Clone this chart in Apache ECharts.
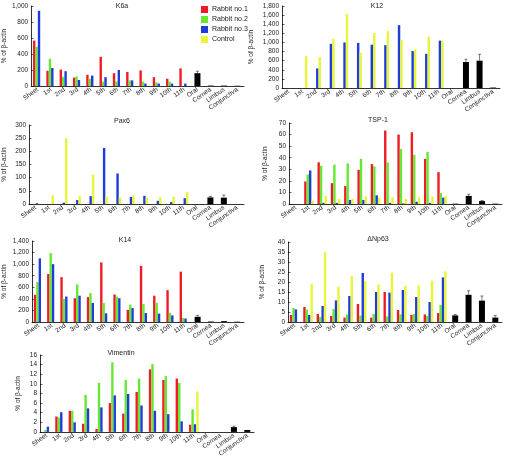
<!DOCTYPE html>
<html><head><meta charset="utf-8">
<script src="https://cdn.jsdelivr.net/npm/echarts@6/dist/echarts.min.js"></script>
<style>html,body{margin:0;padding:0;background:#fff}#c{width:507px;height:459px}</style>
</head><body><div id="c"></div>
<script>
const categories = ['Sheet','1st','2nd','3rd','4th','5th','6th','7th','8th','9th','10th','11th','Oral','Cornea','Limbus','Conjunctiva'];
const seriesNames = ['Rabbit no.1','Rabbit no.2','Rabbit no.3','Control'];
const tissueName = 'Tissue';

// K6a
const k6aRed    = [568,190,205,105,140,365,160,175,195,110,90,220];
const k6aGreen  = [490,340,115,120,90,55,55,70,55,45,55,0];
const k6aBlue   = [940,225,185,75,130,110,200,70,30,30,30,30];
const k6aYellow = [0,0,0,0,0,0,0,0,0,0,0,0];
const k6aTissue = [160,5,5,3];
const k6aErr    = [25,0,0,0];
const k6aTicks  = [0,200,400,600,800,1000];

// K12
const k12Red    = [0,0,0,0,0,0,0,0,0,0,0,0];
const k12Green  = [0,0,0,0,0,0,0,0,0,0,0,0];
const k12Blue   = [0,0,430,970,1000,990,950,940,1380,810,750,1040];
const k12Yellow = [0,700,680,1080,1620,780,1210,1250,1060,850,1130,1030];
const k12Tissue = [0,570,600,10];
const k12Err    = [0,60,140,0];
const k12Ticks  = [0,200,400,600,800,1000,1200,1400,1600,1800];

// Pax6
const pax6Red    = [0,0,0,0,0,0,0,0,0,0,0,0];
const pax6Green  = [0,0,0,0,0,0,0,0,0,0,0,0];
const pax6Blue   = [3,0,5,15,30,213,116,27,31,12,8,22];
const pax6Yellow = [0,33,250,30,112,28,25,33,23,27,28,46];
const pax6Tissue = [0,25,24,0];
const pax6Err    = [0,4,10,0];
const pax6Ticks  = [0,50,100,150,200,250,300];

// TSP-1
const tspRed    = [0,19.5,36,18,15.5,29.5,34.5,63.5,60,62,39,27.5];
const tspGreen  = [0,25.5,33,34,35,39,32.5,36,47.5,42.5,45,9.5];
const tspBlue   = [0,29,1,1,3.5,3.5,7.5,1,0.5,2,1,5.5];
const tspYellow = [0,3,7,4.5,4.5,6.5,5.5,6,4.5,6,6.5,7];
const tspTissue = [0.3,7,2.5,0.3];
const tspErr    = [0,1.5,0.5,0];
const tspTicks  = [0,10,20,30,40,50,60,70];

// K14
const k14Red    = [470,830,775,410,430,1030,475,210,970,455,550,870];
const k14Green  = [690,1190,400,650,500,330,440,300,310,330,160,70];
const k14Blue   = [1100,1000,440,455,330,150,410,240,155,145,115,60];
const k14Yellow = [0,0,0,0,0,0,0,0,0,0,0,0];
const k14Tissue = [90,8,15,5];
const k14Err    = [25,0,0,0];
const k14Ticks  = [0,200,400,600,800,1000,1200,1400];

// ΔNp63
const npRed    = [3.5,7.5,4,3,2.2,9,2.2,15,6,3.5,3.8,4.5];
const npGreen  = [7,6.2,2.5,6.5,3.8,3.2,4,2.8,3.8,4,3,8.5];
const npBlue   = [6.3,3.5,8,10.8,13,24.5,15,14.7,16,12.5,10,22.3];
const npYellow = [0,19,35,17.5,23,20.5,18.8,24.7,18,18.3,20.7,25.3];
const npTissue = [3.3,13.6,10.7,2.2];
const npErr    = [0.4,2,2.3,1];
const npTicks  = [0,5,10,15,20,25,30,35,40];

// Vimentin
const vimRed    = [0,3.2,4.4,1.7,0.6,6,3.8,8.3,13,10.8,11.1,1.5];
const vimGreen  = [0.4,3,4.4,7.7,10.2,14.5,10.8,11.1,14.1,11.6,10.2,4.7];
const vimBlue   = [1.1,4.1,2,4.9,5.1,7.6,7.9,5.5,4.4,3.7,2.2,1.6];
const vimYellow = [0,0,0,0,0,0,0,0,0,0,0,8.4];
const vimTissue = [0,0,1,0.4];
const vimErr    = [0,0,0.2,0];
const vimTicks  = [0,2,4,6,8,10,12,14,16];

const colors = ['#ee1c24','#66e833','#1f3ddb','#e8f53a'];
const FONT = 'Liberation Sans, Arial, sans-serif';

const panels = [
  {title:'K6a', d:[k6aRed,k6aGreen,k6aBlue,k6aYellow], t:k6aTissue, e:k6aErr, ticks:k6aTicks, g:{left:29,top:6,width:215,height:80}, tx:122, ty:6, ng:21},
  {title:'K12', d:[k12Red,k12Green,k12Blue,k12Yellow], t:k12Tissue, e:k12Err, ticks:k12Ticks, g:{left:282,top:6,width:218,height:82}, tx:377, ty:6, ng:27},
  {title:'Pax6', d:[pax6Red,pax6Green,pax6Blue,pax6Yellow], t:pax6Tissue, e:pax6Err, ticks:pax6Ticks, g:{left:29,top:125,width:215,height:79}, tx:122, ty:121, ng:21},
  {title:'TSP-1', d:[tspRed,tspGreen,tspBlue,tspYellow], t:tspTissue, e:tspErr, ticks:tspTicks, g:{left:289,top:123,width:213,height:81}, tx:378, ty:120, ng:20},
  {title:'K14', d:[k14Red,k14Green,k14Blue,k14Yellow], t:k14Tissue, e:k14Err, ticks:k14Ticks, g:{left:29,top:241,width:215,height:81}, tx:125, ty:240, ng:24},
  {title:'\u0394Np63', d:[npRed,npGreen,npBlue,npYellow], t:npTissue, e:npErr, ticks:npTicks, g:{left:288,top:242,width:214,height:80}, tx:378, ty:239, ng:22},
  {title:'Vimentin', d:[vimRed,vimGreen,vimBlue,vimYellow], t:vimTissue, e:vimErr, ticks:vimTicks, g:{left:40,top:355,width:214,height:81}, tx:121, ty:353, ng:18}
];

const grid=[], xAxis=[], yAxis=[], series=[], graphic=[];
panels.forEach((p,i)=>{
  grid.push(Object.assign({containLabel:false}, p.g));
  xAxis.push({
    type:'category', data:categories, gridIndex:i,
    axisLine:{lineStyle:{color:'#000',width:0.8}},
    axisTick:{show:false},
    axisLabel:{interval:0,rotate:35,fontSize:6.5,margin:3,color:'#222',fontFamily:FONT}
  });
  xAxis.push({type:'category', data:categories, gridIndex:i, show:false});
  const step = p.ticks[1]-p.ticks[0];
  yAxis.push({
    type:'value', gridIndex:i, min:p.ticks[0], max:p.ticks[p.ticks.length-1], interval:step,
    name:'% of \u03b2-actin', nameLocation:'middle', nameGap:p.ng,
    nameTextStyle:{fontSize:6.5,color:'#222',fontFamily:FONT},
    axisLine:{show:true,lineStyle:{color:'#000',width:0.8}},
    axisTick:{show:true,inside:true,length:2.5,lineStyle:{color:'#000',width:0.6}},
    splitLine:{show:false},
    axisLabel:{fontSize:6.5,margin:3,color:'#222',fontFamily:FONT,formatter:v=>v.toLocaleString('en-US')}
  });
  p.d.forEach((arr,k)=>{
    series.push({
      type:'bar', name:seriesNames[k], xAxisIndex:2*i, yAxisIndex:i,
      data:arr.concat([null,null,null,null]).map(v=>v===0?null:v),
      itemStyle:{color:colors[k]}, barGap:'0%', barCategoryGap:'28%', animation:false
    });
  });
  const tdata = new Array(12).fill(null).concat(p.t);
  series.push({
    type:'bar', name:tissueName, xAxisIndex:2*i+1, yAxisIndex:i,
    data:tdata, barWidth:6, itemStyle:{color:'#000'}, animation:false
  });
  const edata = [];
  p.e.forEach((ev,j)=>{ if(ev>0) edata.push([12+j, p.t[j], ev]); });
  series.push({
    type:'custom', name:'err', xAxisIndex:2*i+1, yAxisIndex:i, data:edata, animation:false, z:5,
    encode:{x:0,y:1},
    renderItem:(params,api)=>{
      const x=api.value(0), y=api.value(1), e=api.value(2);
      const top=api.coord([x,y+e]), base=api.coord([x,y]);
      const st={stroke:'#444',lineWidth:0.7};
      return {type:'group',children:[
        {type:'line',shape:{x1:top[0],y1:top[1],x2:base[0],y2:base[1]},style:st},
        {type:'line',shape:{x1:top[0]-1.5,y1:top[1],x2:top[0]+1.5,y2:top[1]},style:st}
      ]};
    }
  });
  graphic.push({type:'text', x:p.tx, y:p.ty, style:{text:p.title, textAlign:'center', textVerticalAlign:'middle', fontSize:7, fill:'#222', fontFamily:FONT}});
});

const chart = echarts.init(document.getElementById('c'), null, {renderer:'canvas'});
chart.setOption({
  backgroundColor:'#fff',
  animation:false,
  grid, xAxis, yAxis, series, graphic,
  legend:{
    data:seriesNames, orient:'vertical', left:196, top:1, icon:'rect',
    itemWidth:7, itemHeight:7, itemGap:3, selectedMode:false,
    textStyle:{fontSize:7, color:'#222', fontFamily:FONT, padding:[0,0,0,-1]}
  }
});
</script>
</body></html>
